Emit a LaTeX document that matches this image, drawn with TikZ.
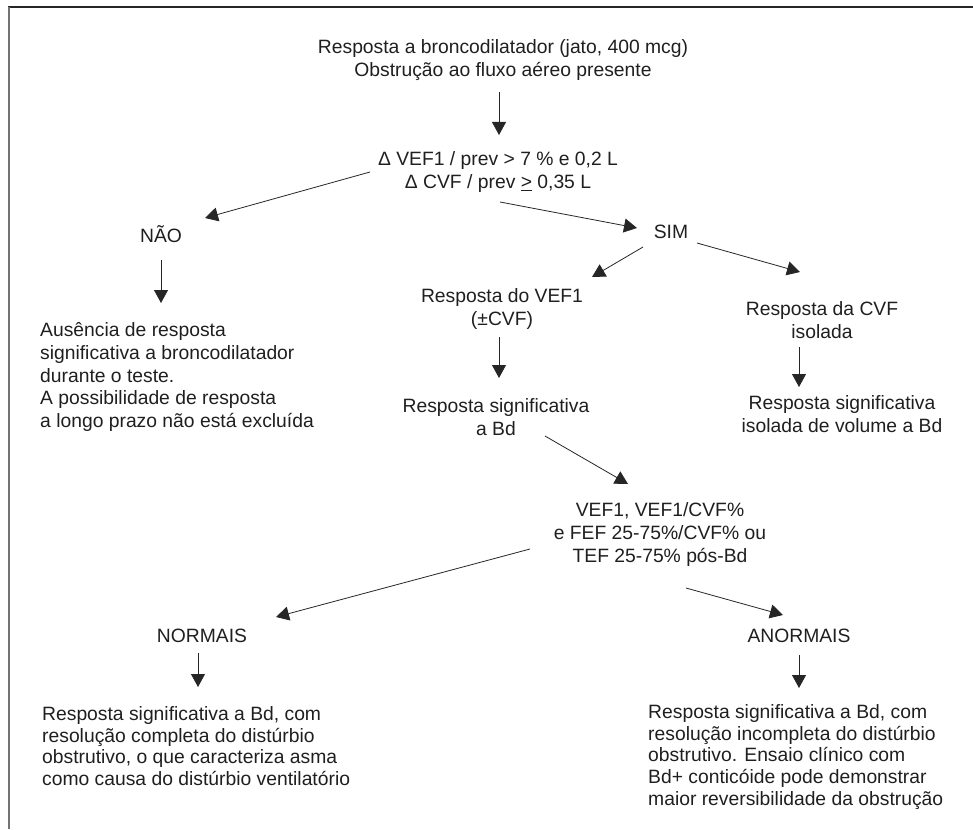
\documentclass[tikz,border=0pt]{standalone}
\usepackage{fontspec}
\setmainfont{Liberation Sans}
\usetikzlibrary{arrows.meta}

\begin{document}
\begin{tikzpicture}[x=1pt,y=-1pt]

	\tikzstyle{label_center} = [inner sep=0pt, align=center, text=black!88, font=\fontsize{19.3}{23}\selectfont]
	\tikzstyle{label_left} = [inner sep=0pt, align=left, anchor=west, text=black!88, font=\fontsize{19.3}{22.7}\selectfont]
	\tikzstyle{label_bottom} = [label_left, font=\fontsize{19.3}{21.8}\selectfont]
	\tikzset{arrow/.style={-{Triangle[length=13pt,width=14pt]}, line width=0.8pt, black!85}}

	\useasboundingbox (0,0) rectangle (973,829);
	\draw[line width=1.2pt, black!85] (8,7) -- (973,7);
	\draw[line width=1.4pt, black!55] (9,7) -- (9,829);

%------------------------------------------------------------
	\node[label_center] (title) at (503,60) {Resposta a broncodilatador (jato, 400 mcg)\\Obstrução ao fluxo aéreo presente};
	\node[label_center] (cond) at (498,172) {Δ VEF1 / prev > 7 \% e 0,2 L\\Δ CVF / prev \underline{>} 0,35 L};

	\path[arrow] ([shift={(-4,32)}]title.center) edge ([shift={(1,-37)}]cond.center);

%------------------------------------------------------------
	\node[label_center] (nao) at (161,234) {NÃO};
	\node[label_left] (nao_txt) at (40,377) {Ausência de resposta\\significativa a broncodilatador\\durante o teste.\\A possibilidade de resposta\\a longo prazo não está excluída};

	\path[arrow] ([shift={(-128,0)}]cond.center) edge ([shift={(44,-16)}]nao.center);
	\path[arrow] ([shift={(0,26)}]nao.center) edge ([shift={(121,-74)}]nao_txt.west);

%------------------------------------------------------------
	\node[label_center] (sim) at (671,232) {SIM};
	\node[label_center] (vef) at (502,309) {Resposta do VEF1\\(±CVF)};
	\node[label_center] (vef_sig) at (496,417) {Resposta significativa\\a Bd};
	\node[label_center] (cvf) at (822,320) {Resposta da CVF\\isolada};
	\node[label_center] (cvf_sig) at (842,414) {Resposta significativa\\isolada de volume a Bd};

	\path[arrow] ([shift={(2,30)}]cond.center) edge ([shift={(-34,-4)}]sim.center);
	\path[arrow] ([shift={(-28,15)}]sim.center) edge ([shift={(90,-32)}]vef.center);
	\path[arrow] ([shift={(26,11)}]sim.center) edge ([shift={(-22,-48)}]cvf.center);
	\path[arrow] ([shift={(-3,28)}]vef.center) edge ([shift={(3,-39)}]vef_sig.center);
	\path[arrow] ([shift={(-23,27)}]cvf.center) edge ([shift={(-43,-27)}]cvf_sig.center);

%------------------------------------------------------------
	\node[label_center] (post) at (660,535) {VEF1, VEF1/CVF\%\\e FEF 25-75\%/CVF\% ou\\TEF 25-75\% pós-Bd};

	\path[arrow] ([shift={(49,19)}]vef_sig.center) edge ([shift={(-32,-51)}]post.center);

%------------------------------------------------------------
	\node[label_center] (normais) at (202,636) {NORMAIS};
	\node[label_center] (anormais) at (799,636) {ANORMAIS};
	\node[label_bottom] (normais_txt) at (42,746) {Resposta significativa a Bd, com\\resolução completa do distúrbio\\obstrutivo, o que caracteriza asma\\como causa do distúrbio ventilatório};
	\node[label_bottom] (anormais_txt) at (648,757) {Resposta significativa a Bd, com\\resolução incompleta do distúrbio\\obstrutivo. Ensaio clínico com\\Bd+ conticóide pode demonstrar\\maior reversibilidade da obstrução};

	\path[arrow] ([shift={(-130,14)}]post.center) edge ([shift={(74,-19)}]normais.center);
	\path[arrow] ([shift={(26,53)}]post.center) edge ([shift={(-16,-21)}]anormais.center);
	\path[arrow] ([shift={(-4,17)}]normais.center) edge ([shift={(156,-59)}]normais_txt.west);
	\path[arrow] ([shift={(0,19)}]anormais.center) edge ([shift={(151,-69)}]anormais_txt.west);

\end{tikzpicture}
\end{document}
